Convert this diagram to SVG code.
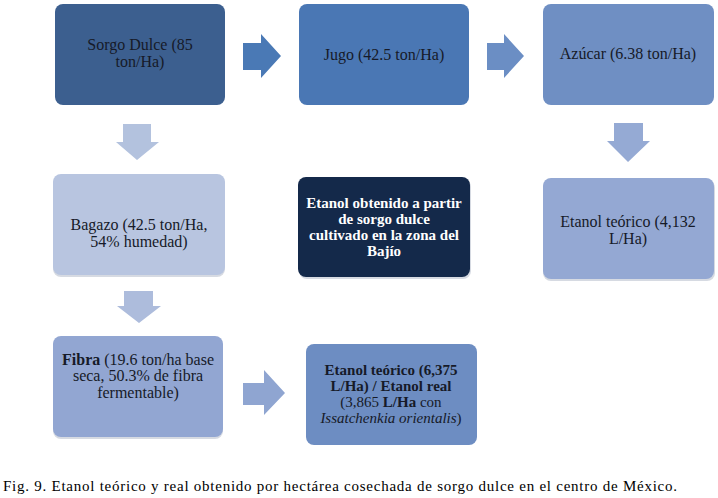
<svg xmlns="http://www.w3.org/2000/svg" width="718" height="498" viewBox="0 0 718 498" font-family="Liberation Serif, DejaVu Serif, serif">
<style>
.t{font-size:16px;fill:#161a28;text-anchor:middle}
.w{fill:#ffffff;font-weight:bold;font-size:15px}
.b{font-weight:bold}
.s{font-size:15px}
.i{font-style:italic;font-weight:normal}
.cap{font-size:15px;fill:#000}
.sh{fill:#d6dae2}
</style>
<rect width="718" height="498" fill="#ffffff"/>
<g id="connectors">
<path d="M243,43 H261 V34 L281,56 L261,78 V70 H243 Z" fill="#4a79b5"/>
<path d="M487,43 H504 V34 L524,56 L504,78 V70 H487 Z" fill="#6b8ec4"/>
<path d="M123,124 H151 V142 H159 L137,160 L116,142 H123 Z" fill="#b3c2de"/>
<path d="M614,123 H643 V141 H650 L628,162 L607,141 H614 Z" fill="#95aad4"/>
<path d="M124,291 H153 V306 H161 L139,323 L117,306 H124 Z" fill="#adbcdc"/>
<path d="M243,383 H264 V370 L285,393 L264,415 V405 H243 Z" fill="#8fa5d1"/>
</g>
<g id="sorgo">
<rect x="55" y="4" width="170" height="101" rx="8" fill="#3c5f8f"/>
<text class="t" x="140" y="50">Sorgo Dulce (85</text>
<text class="t" x="140" y="67">ton/Ha)</text>
</g>
<g id="jugo">
<rect x="299" y="4" width="170" height="101" rx="8" fill="#4a77b4"/>
<text class="t" x="384" y="60">Jugo (42.5 ton/Ha)</text>
</g>
<g id="azucar">
<rect x="543" y="4" width="171" height="101" rx="8" fill="#6f8fc3"/>
<text class="t" x="628" y="59">Azúcar (6.38 ton/Ha)</text>
</g>
<g id="bagazo">
<rect x="53" y="176" width="172" height="101" rx="8" class="sh"/>
<rect x="53" y="174" width="172" height="101" rx="8" fill="#b8c5e0"/>
<text class="t" x="139" y="230">Bagazo (42.5 ton/Ha,</text>
<text class="t" x="139" y="247">54% humedad)</text>
</g>
<g id="titulo">
<rect x="299" y="179" width="172" height="100" rx="8" class="sh"/>
<rect x="298" y="177" width="172" height="100" rx="8" fill="#14294a"/>
<text class="t w" x="384" y="208">Etanol obtenido a partir</text>
<text class="t w" x="384" y="224">de sorgo dulce</text>
<text class="t w" x="384" y="240">cultivado en la zona del</text>
<text class="t w" x="384" y="256">Bajío</text>
</g>
<g id="etanol1">
<rect x="543" y="180" width="172" height="101" rx="8" class="sh"/>
<rect x="543" y="178" width="171" height="101" rx="8" fill="#94a8d3"/>
<text class="t" x="628" y="227">Etanol teórico (4,132</text>
<text class="t" x="628" y="244">L/Ha)</text>
</g>
<g id="fibra">
<rect x="53" y="338" width="170" height="101" rx="8" class="sh"/>
<rect x="53" y="336" width="170" height="101" rx="8" fill="#92a6d2"/>
<text class="t" x="138" y="365"><tspan class="b">Fibra</tspan> (19.6 ton/ha base</text>
<text class="t" x="138" y="381">seca, 50.3% de fibra</text>
<text class="t" x="138" y="398">fermentable)</text>
</g>
<g id="etanol2">
<rect x="306" y="344" width="171" height="101" rx="8" fill="#6d8dc2"/>
<text class="t s b" x="391" y="375">Etanol teórico (6,375</text>
<text class="t s b" x="391" y="391">L/Ha) / Etanol real</text>
<text class="t s" x="391" y="407">(3,865 <tspan class="b">L/Ha</tspan> con</text>
<text class="t s" x="391" y="423"><tspan class="i">Issatchenkia orientalis</tspan>)</text>
</g>
<text class="cap" x="3" y="491" textLength="674" lengthAdjust="spacing">Fig. 9. Etanol teórico y real obtenido por hectárea cosechada de sorgo dulce en el centro de México.</text>
</svg>
